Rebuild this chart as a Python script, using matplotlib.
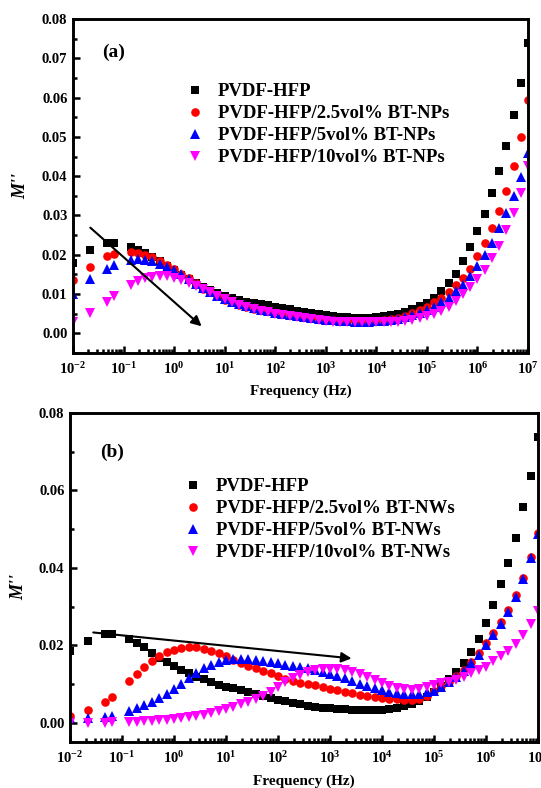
import numpy as np
import matplotlib
matplotlib.use("Agg")
import matplotlib.pyplot as plt
from matplotlib.ticker import LogLocator, MultipleLocator, FuncFormatter, NullFormatter

plt.rcParams['font.family'] = ['Liberation Serif', 'DejaVu Serif']
plt.rcParams['font.weight'] = 'bold'
plt.rcParams['mathtext.fontset'] = 'custom'
plt.rcParams['mathtext.rm'] = 'Liberation Serif:bold'
plt.rcParams['mathtext.bf'] = 'Liberation Serif:bold'
plt.rcParams['mathtext.it'] = 'Liberation Serif:italic:bold'

# measurement frequencies (Hz)
freq = [0.01, 0.022, 0.047, 0.065,
        0.139, 0.193, 0.268, 0.373, 0.518, 0.720,
        1.00, 1.39, 1.93, 2.68, 3.73, 5.18, 7.20,
        10.0, 13.9, 19.3, 26.8, 37.3, 51.8, 72.0,
        100, 139, 193, 268, 373, 518, 720,
        1.00e3, 1.39e3, 1.93e3, 2.68e3, 3.73e3, 5.18e3, 7.20e3,
        1.00e4, 1.39e4, 1.93e4, 2.68e4, 3.73e4, 5.18e4, 7.20e4,
        1.00e5, 1.39e5, 1.93e5, 2.68e5, 3.73e5, 5.18e5, 7.20e5,
        1.00e6, 1.39e6, 1.93e6, 2.68e6, 3.73e6, 5.18e6, 7.20e6,
        1.00e7]

# (a) nanoparticle composites, M''
np_pure = [0.0180, 0.0213, 0.0229, 0.0229,
           0.0219, 0.0213, 0.0205, 0.0195, 0.0184, 0.0172,
           0.0160, 0.0149, 0.0138, 0.0128, 0.0119, 0.0110, 0.0102,
           0.0095, 0.0090, 0.0085, 0.0081, 0.0077, 0.0074, 0.0071,
           0.0068, 0.0064, 0.0061, 0.0058, 0.0055, 0.0052, 0.0049,
           0.0046, 0.0044, 0.0042, 0.0041, 0.0040, 0.0040, 0.0040,
           0.0041, 0.0043, 0.0046, 0.0050, 0.0055, 0.0061, 0.0069,
           0.0078, 0.0091, 0.0107, 0.0127, 0.0152, 0.0183, 0.0219,
           0.0261, 0.0305, 0.0357, 0.0412, 0.0477, 0.0556, 0.0638,
           0.0738]
np_25 = [0.0135, 0.0169, 0.0196, 0.0202,
         0.0206, 0.0204, 0.0200, 0.0194, 0.0185, 0.0175,
         0.0164, 0.0152, 0.0140, 0.0127, 0.0114, 0.0104, 0.0094,
         0.0086, 0.0079, 0.0073, 0.0068, 0.0063, 0.0059, 0.0056,
         0.0053, 0.0050, 0.0047, 0.0044, 0.0041, 0.0039, 0.0037,
         0.0035, 0.0033, 0.0032, 0.0031, 0.0031, 0.0031, 0.0031,
         0.0032, 0.0034, 0.0036, 0.0040, 0.0045, 0.0051, 0.0059,
         0.0068, 0.0079, 0.0091, 0.0105, 0.0122, 0.0141, 0.0165,
         0.0196, 0.0229, 0.0269, 0.0312, 0.0363, 0.0427, 0.0500,
         0.0594]
np_5 = [0.0099, 0.0138, 0.0164, 0.0175,
        0.0187, 0.0188, 0.0187, 0.0183, 0.0177, 0.0170,
        0.0161, 0.0150, 0.0138, 0.0126, 0.0115, 0.0105, 0.0095,
        0.0087, 0.0080, 0.0074, 0.0069, 0.0064, 0.0060, 0.0056,
        0.0053, 0.0050, 0.0047, 0.0044, 0.0041, 0.0038, 0.0036,
        0.0034, 0.0033, 0.0032, 0.0031, 0.0030, 0.0030, 0.0030,
        0.0031, 0.0032, 0.0034, 0.0037, 0.0041, 0.0046, 0.0052,
        0.0059, 0.0068, 0.0079, 0.0091, 0.0107, 0.0124, 0.0145,
        0.0171, 0.0200, 0.0231, 0.0268, 0.0307, 0.0349, 0.0398,
        0.0460]
np_10 = [0.0030, 0.0053, 0.0081, 0.0095,
         0.0124, 0.0134, 0.0141, 0.0144, 0.0145, 0.0145,
         0.0142, 0.0136, 0.0129, 0.0121, 0.0113, 0.0104, 0.0095,
         0.0087, 0.0080, 0.0073, 0.0067, 0.0062, 0.0058, 0.0054,
         0.0050, 0.0047, 0.0044, 0.0041, 0.0038, 0.0036, 0.0034,
         0.0032, 0.0030, 0.0029, 0.0028, 0.0028, 0.0028, 0.0028,
         0.0028, 0.0028, 0.0029, 0.0030, 0.0032, 0.0035, 0.0039,
         0.0044, 0.0050, 0.0058, 0.0068, 0.0082, 0.0099, 0.0118,
         0.0139, 0.0162, 0.0192, 0.0222, 0.0264, 0.0307, 0.0357,
         0.0425]

# (b) nanowire composites, M''
nw_pure = [0.0185, 0.0212, 0.0230, 0.0230,
           0.0216, 0.0207, 0.0195, 0.0180, 0.0168, 0.0157,
           0.0147, 0.0137, 0.0128, 0.0119, 0.0112, 0.0105, 0.0098,
           0.0093, 0.0089, 0.0084, 0.0079, 0.0073, 0.0068, 0.0064,
           0.0059, 0.0055, 0.0051, 0.0047, 0.0044, 0.0041, 0.0039,
           0.0037, 0.0035, 0.0034, 0.0033, 0.0032, 0.0032, 0.0032,
           0.0032, 0.0034, 0.0038, 0.0043, 0.0049, 0.0056, 0.0065,
           0.0078, 0.0094, 0.0112, 0.0132, 0.0155, 0.0183, 0.0216,
           0.0258, 0.0305, 0.0357, 0.0412, 0.0478, 0.0556, 0.0638,
           0.0738]
nw_25 = [0.0018, 0.0033, 0.0053, 0.0066,
         0.0108, 0.0125, 0.0143, 0.0159, 0.0173, 0.0182,
         0.0188, 0.0192, 0.0195, 0.0195, 0.0191, 0.0186, 0.0179,
         0.0171, 0.0163, 0.0155, 0.0147, 0.0140, 0.0133, 0.0127,
         0.0120, 0.0114, 0.0108, 0.0103, 0.0099, 0.0096, 0.0092,
         0.0088, 0.0084, 0.0080, 0.0076, 0.0072, 0.0069, 0.0066,
         0.0063, 0.0061, 0.0060, 0.0059, 0.0059, 0.0062, 0.0070,
         0.0082, 0.0094, 0.0106, 0.0120, 0.0137, 0.0157, 0.0180,
         0.0205, 0.0231, 0.0260, 0.0292, 0.0330, 0.0375, 0.0428,
         0.0490]
nw_5 = [0.0012, 0.0012, 0.0014, 0.0016,
        0.0030, 0.0037, 0.0045, 0.0053, 0.0063, 0.0075,
        0.0088, 0.0101, 0.0115, 0.0129, 0.0140, 0.0150, 0.0157,
        0.0162, 0.0165, 0.0165, 0.0164, 0.0162, 0.0160, 0.0156,
        0.0153, 0.0150, 0.0147, 0.0144, 0.0140, 0.0136, 0.0131,
        0.0126, 0.0121, 0.0115, 0.0108, 0.0101, 0.0095, 0.0090,
        0.0084, 0.0080, 0.0077, 0.0075, 0.0074, 0.0075, 0.0078,
        0.0083, 0.0092, 0.0104, 0.0118, 0.0134, 0.0154, 0.0176,
        0.0200, 0.0226, 0.0255, 0.0287, 0.0325, 0.0370, 0.0425,
        0.0488]
nw_10 = [0.0000, 0.0000, 0.0000, 0.0001,
         0.0001, 0.0002, 0.0003, 0.0004, 0.0006, 0.0008,
         0.0010, 0.0012, 0.0014, 0.0017, 0.0021, 0.0025, 0.0030,
         0.0035, 0.0041, 0.0047, 0.0053, 0.0061, 0.0070, 0.0080,
         0.0092, 0.0104, 0.0115, 0.0124, 0.0131, 0.0136, 0.0138,
         0.0139, 0.0138, 0.0136, 0.0132, 0.0126, 0.0119, 0.0111,
         0.0102, 0.0095, 0.0090, 0.0087, 0.0085, 0.0087, 0.0091,
         0.0097, 0.0102, 0.0106, 0.0111, 0.0118, 0.0127, 0.0136,
         0.0145, 0.0158, 0.0172, 0.0186, 0.0203, 0.0226, 0.0254,
         0.0288]

labels_np = ["PVDF-HFP", "PVDF-HFP/2.5vol% BT-NPs",
             "PVDF-HFP/5vol% BT-NPs", "PVDF-HFP/10vol% BT-NPs"]
labels_nw = ["PVDF-HFP", "PVDF-HFP/2.5vol% BT-NWs",
             "PVDF-HFP/5vol% BT-NWs", "PVDF-HFP/10vol% BT-NWs"]

colors = ['#000000', '#ff0000', '#0000ff', '#ff00ff']
markers = ['s', 'o', '^', 'v']
msizes = [5.2, 6.2, 6.6, 6.6]


def log_label(x, pos):
    e = int(round(np.log10(x)))
    return r'$\mathbf{10^{%d}}$' % e


def style_axes(ax, major, minor):
    ax.set_xscale('log')
    ax.set_xlim(1e-2, 1e7)
    ax.xaxis.set_major_locator(LogLocator(base=10, numticks=20))
    ax.xaxis.set_minor_locator(LogLocator(base=10, subs=np.arange(2, 10), numticks=20))
    ax.xaxis.set_major_formatter(FuncFormatter(log_label))
    ax.xaxis.set_minor_formatter(NullFormatter())
    ax.yaxis.set_major_locator(MultipleLocator(major))
    ax.yaxis.set_minor_locator(MultipleLocator(minor))
    ax.yaxis.set_major_formatter(FuncFormatter(lambda v, p: '%.2f' % v))
    ax.tick_params(which='both', direction='in', top=False, right=False, width=1.8)
    ax.tick_params(which='major', length=5, labelsize=10.5)
    ax.tick_params(which='minor', length=3)
    ax.tick_params(axis='x', which='major', pad=6)
    ax.tick_params(axis='y', which='major', pad=4)
    for lab in ax.get_yticklabels():
        lab.set_fontweight('bold')
    for s in ax.spines.values():
        s.set_linewidth(2.1)


fig = plt.figure(figsize=(5.41, 7.88), dpi=100)
ax1 = fig.add_axes([73 / 541, 1 - 353 / 788, 455 / 541, 334 / 788])
ax2 = fig.add_axes([70 / 541, 1 - 742 / 788, 468 / 541, 329 / 788])

series_a = [np_pure, np_25, np_5, np_10]
series_b = [nw_pure, nw_25, nw_5, nw_10]

for ys, lab, c, m, ms in zip(series_a, labels_np, colors, markers, msizes):
    ax1.plot(freq, ys, linestyle='none', marker=m, color=c, ms=ms, mew=0, label=lab)
for ys, lab, c, m, ms in zip(series_b, labels_nw, colors, markers, msizes):
    ax2.plot(freq, ys, linestyle='none', marker=m, color=c, ms=ms, mew=0, label=lab)

style_axes(ax1, 0.01, 0.005)
ax1.set_ylim(-0.005, 0.08)
style_axes(ax2, 0.02, 0.01)
ax2.set_ylim(-0.005, 0.08)

for ax, tag, ty in [(ax1, '(a)', 0.90), (ax2, '(b)', 0.88)]:
    ax.set_xlabel('Frequency (Hz)', fontsize=11, fontweight='bold')
    ax.set_ylabel("M''", fontsize=13, fontweight='bold', fontstyle='italic')
    ax.text(0.065, ty, tag, transform=ax.transAxes, fontsize=14,
            fontweight='bold', va='center', ha='left')

ax1.xaxis.set_label_coords(0.5, -0.095)
ax1.yaxis.set_label_coords(-0.097, 0.5)
ax2.xaxis.set_label_coords(0.5, -0.098)
ax2.yaxis.set_label_coords(-0.092, 0.47)

leg_kw = dict(frameon=False, handlelength=1.0, handletextpad=0.73,
              labelspacing=0.26, borderpad=0, borderaxespad=0, numpoints=1,
              loc='upper left', prop={'weight': 'bold', 'size': 13.5})
ax1.legend(bbox_to_anchor=(0.247, 0.808), **leg_kw)
ax2.legend(bbox_to_anchor=(0.243, 0.802), **leg_kw)

# trend arrows
arrow_kw = dict(arrowstyle='-|>', color='k', lw=1.5, mutation_scale=15,
                shrinkA=0, shrinkB=0)
ax1.annotate('', xy=(3.5, 0.0018), xytext=(0.022, 0.0269), arrowprops=arrow_kw)
ax2.annotate('', xy=(2600, 0.0166), xytext=(0.028, 0.0233), arrowprops=arrow_kw)

fig.savefig('out.png', dpi=100)
